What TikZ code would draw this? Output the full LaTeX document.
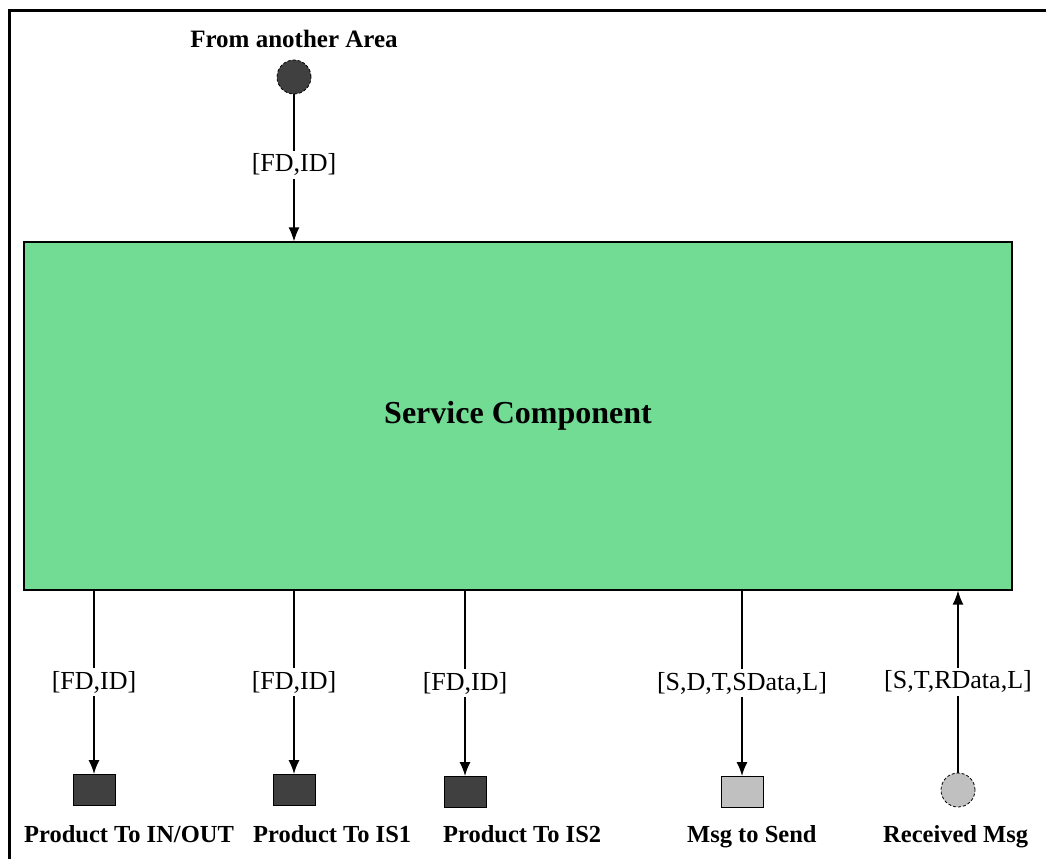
\documentclass[tikz,border=0pt]{standalone}
\usepackage{fontspec}
\setmainfont{Liberation Serif}
\usetikzlibrary{arrows.meta,positioning}
\definecolor{compgreen}{RGB}{114,219,148}
\definecolor{darktok}{RGB}{64,64,64}
\definecolor{lighttok}{RGB}{192,192,192}

\begin{document}
\begin{tikzpicture}[x=1pt,y=-1pt,
  flow/.style={line width=1.4pt,-{Latex[length=14pt,width=11pt]}},
  lbl/.style={fill=white,inner sep=3pt,font=\fontsize{26}{30}\selectfont},
  tname/.style={font=\bfseries\fontsize{24.5}{28}\selectfont,inner sep=0pt},
  place/.style={circle,draw,densely dashed,line width=0.8pt,minimum size=34pt,inner sep=0pt},
  sqbox/.style={rectangle,draw,line width=1pt,minimum width=42pt,minimum height=31pt,inner sep=0pt}]
  \useasboundingbox (0,0) rectangle (1046,859);
  % outer frame (left and top only)
  \draw[line width=3pt] (9,859) -- (9,11) -- (1046,11);

  % source place and component
  \node[tname,anchor=base,font=\bfseries\fontsize{25}{29}\selectfont] (srctxt) at (294,48) {From another Area};
  \node[place,fill=darktok] (src) at (294,77) {};
  \node[draw,line width=1.2pt,fill=compgreen,minimum width=988pt,minimum height=348pt,inner sep=0pt,
        font=\bfseries\fontsize{32}{36}\selectfont] (comp) at (518,416) {Service Component};
  \draw[flow] (src) -- (comp.north -| src) node[lbl,pos=0.48]{[FD,ID]};

  % output tokens
  \node[sqbox,fill=darktok] (inout) at (94,790) {};
  \node[sqbox,fill=darktok] (isone) at (294,790) {};
  \node[sqbox,fill=darktok] (istwo) at (465,792) {};
  \node[sqbox,fill=lighttok] (send) at (742,792) {};
  \node[place,fill=lighttok] (recv) at (958,790) {};

  \draw[flow] (comp.south -| inout) -- (inout) node[lbl,midway]{[FD,ID]};
  \draw[flow] (comp.south -| isone) -- (isone) node[lbl,midway]{[FD,ID]};
  \draw[flow] (comp.south -| istwo) -- (istwo) node[lbl,midway]{[FD,ID]};
  \draw[flow] (comp.south -| send) -- (send) node[lbl,midway]{[S,D,T,SData,L]};
  \draw[flow] (recv) -- (comp.south -| recv) node[lbl,midway]{[S,T,RData,L]};

  % token names
  \node[tname,anchor=base west] (inouttxt) at (24,842) {Product To IN/OUT};
  \node[tname,anchor=base west] (isonetxt) at (253,842) {Product To IS1};
  \node[tname,anchor=base west] (istwotxt) at (443,842) {Product To IS2};
  \node[tname,anchor=base west] (sendtxt) at (687,842) {Msg to Send};
  \node[tname,anchor=base west] (recvtxt) at (883,842) {Received Msg};
\end{tikzpicture}
\end{document}
